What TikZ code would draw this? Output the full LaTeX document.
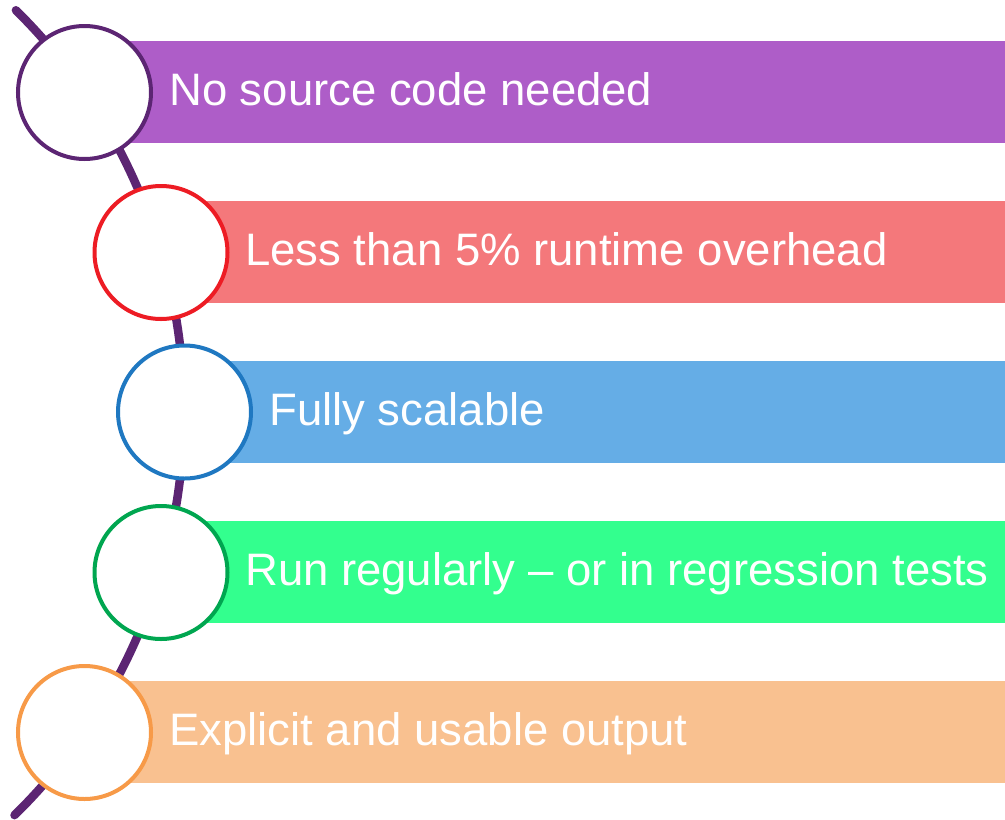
\documentclass[tikz,border=0pt]{standalone}
\usepackage{fontspec}
\setmainfont{Liberation Sans}
\definecolor{lineP}{HTML}{5C2573}
\definecolor{barP}{HTML}{AE5DC8}
\definecolor{ringR}{HTML}{ED1C24}
\definecolor{barR}{HTML}{F4787B}
\definecolor{ringB}{HTML}{1F78C1}
\definecolor{barB}{HTML}{65ADE6}
\definecolor{ringG}{HTML}{00A650}
\definecolor{barG}{HTML}{33FF8E}
\definecolor{ringO}{HTML}{F79A48}
\definecolor{barO}{HTML}{F9C190}
\tikzset{
  ring/.style={circle, draw, line width=4pt, fill=white, minimum size=133pt, inner sep=0pt},
  barbox/.style={rectangle, draw=none, inner sep=0pt, minimum height=102pt, anchor=west},
  lbl/.style={anchor=base west, inner sep=0pt, text=white, font=\fontsize{45.5}{54}\selectfont},
  spine/.style={line width=8.5pt, line cap=round, draw=lineP}
}
\begin{document}
\begin{tikzpicture}[x=1pt,y=-1pt]
\useasboundingbox (0,0) rectangle (1005,820);
% spine arc
\draw[spine] ([shift={(-380.3,412)}]-45.4:564.3) arc[start angle=-45.4, end angle=45.6, radius=564.3];
% bars
\node[barbox, fill=barP, minimum width=875pt] (b1) at (130,92) {};
\node[barbox, fill=barR, minimum width=800pt] (b2) at (205,252) {};
\node[barbox, fill=barB, minimum width=775pt] (b3) at (230,412) {};
\node[barbox, fill=barG, minimum width=800pt] (b4) at (205,572) {};
\node[barbox, fill=barO, minimum width=875pt] (b5) at (130,732) {};
% rings
\node[ring, draw=lineP] (c1) at (84.5,92.5) {};
\node[ring, draw=ringR] (c2) at (161,252.5) {};
\node[ring, draw=ringB] (c3) at (184.5,412) {};
\node[ring, draw=ringG] (c4) at (161,572.5) {};
\node[ring, draw=ringO] (c5) at (84.5,732.5) {};
% labels
\node[lbl] (t1) at (169,105) {No source code needed};
\node[lbl] (t2) at (245,265) {Less than 5\% runtime overhead};
\node[lbl] (t3) at (269,425) {Fully scalable};
\node[lbl] (t4) at (245,585) {Run regularly – or in regression tests};
\node[lbl] (t5) at (169,745) {Explicit and usable output};
\end{tikzpicture}
\end{document}
